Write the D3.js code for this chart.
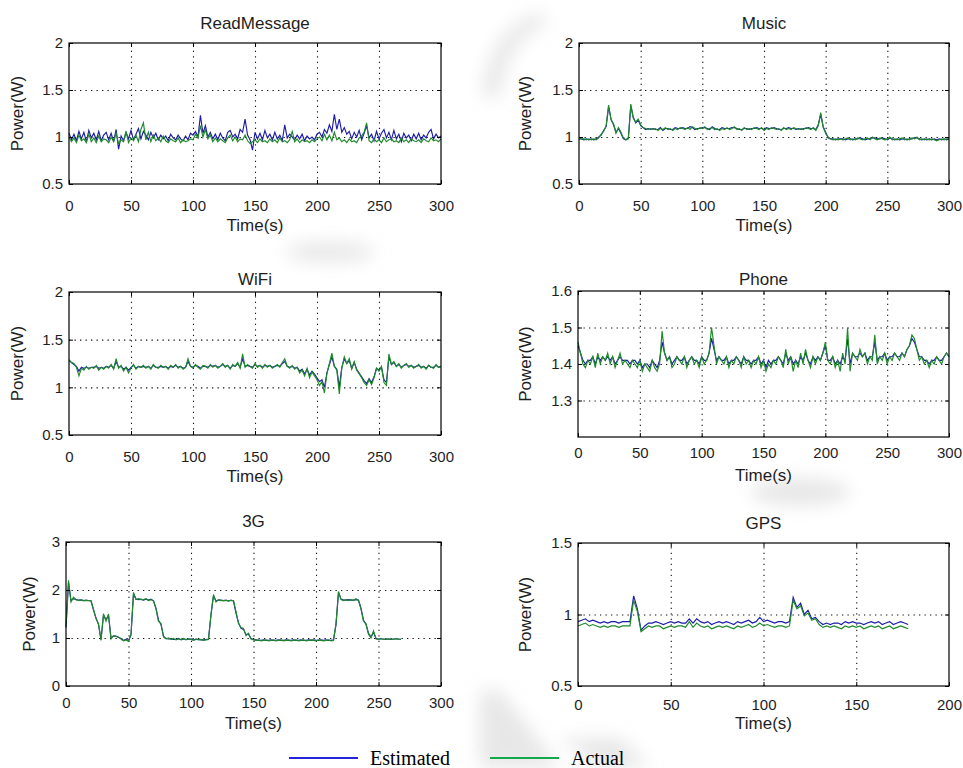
<!DOCTYPE html>
<html>
<head>
<meta charset="utf-8">
<script src="https://cdn.jsdelivr.net/npm/d3@7"></script>
<style>
	body { margin: 0; background: #fff; }
	svg { display: block; }
	text { font-family: "Liberation Sans", Arial, sans-serif; fill: #1e1e1e; }
	.grid line { stroke: #111; stroke-width: 1.1; stroke-dasharray: 1.3 4.2; }
	.legend text { font-family: "Liberation Serif", "Times New Roman", serif; fill: #000; }
</style>
</head>
<body>
<div id="chart"></div>
<script>
// one sample every 2 s
const sampleStep = 2;

const panelTitles = ["ReadMessage", "Music", "WiFi", "Phone", "3G", "GPS"];
const seriesNames = ["Estimated", "Actual"];
const xTicks300 = [0, 50, 100, 150, 200, 250, 300];
const xTicks200 = [0, 50, 100, 150, 200];
const yTicksHalf = [0.5, 1, 1.5, 2];
const yTicksPhone = [1.3, 1.4, 1.5, 1.6];
const yTicks3G = [0, 1, 2, 3];
const yTicksGPS = [0.5, 1, 1.5];

const readMsgEst = [
	1.04, 0.97, 1.03, 0.96, 1.06, 0.98, 1.05, 0.95, 1.07, 0.99,
	1.04, 0.97, 1.06, 0.96, 1.02, 1.05, 0.97, 1.04, 0.95, 1.08,
	0.87, 1.01, 0.96, 1.05, 0.98, 1.07, 0.97, 1.03, 1.09, 0.98,
	1.06, 1.02, 0.97, 1.05, 0.99, 1.04, 0.97, 1.02, 0.98, 1.01,
	0.96, 1.03, 0.99, 0.97, 1.02, 0.98, 0.96, 1.01, 0.97, 1.04,
	1.02, 1.06, 1.00, 1.23, 1.04, 1.12, 1.00, 1.05, 0.98, 1.03,
	0.97, 1.04, 0.99, 0.96, 1.05, 1.07, 1.00, 1.03, 0.98, 1.08,
	1.05, 1.19, 1.02, 0.97, 0.86, 1.05, 0.98, 1.04, 0.97, 1.07,
	0.99, 1.03, 0.97, 1.05, 0.98, 1.02, 0.96, 1.13, 0.99, 1.03,
	1.00, 0.97, 1.02, 0.98, 1.03, 0.96, 1.01, 0.98, 1.00, 0.97,
	1.03, 1.05, 1.00, 1.08, 1.04, 1.13, 1.06, 1.24, 1.08, 1.19,
	1.05, 1.10, 1.03, 1.06, 0.98, 1.05, 1.00, 1.07, 0.97, 1.04,
	1.12, 0.99, 1.03, 0.96, 1.06, 0.98, 1.04, 1.08, 0.99, 1.05,
	0.97, 1.07, 0.98, 1.03, 0.95, 1.04, 0.99, 1.02, 0.96, 1.03,
	0.98, 1.04, 0.97, 1.02, 0.99, 1.05, 1.08, 0.98, 1.03, 0.99,
	1.01
];
const readMsgAct = [
	1.00, 0.95, 0.99, 0.94, 1.02, 0.96, 0.98, 0.94, 1.03, 0.95,
	0.99, 0.94, 1.01, 0.95, 0.98, 0.97, 0.94, 1.00, 0.95, 1.04,
	0.93, 0.97, 0.95, 1.06, 0.94, 0.99, 0.96, 1.02, 0.95, 1.08,
	1.15, 0.97, 1.05, 0.95, 1.02, 0.96, 0.99, 0.95, 1.01, 0.96,
	0.94, 0.98, 0.96, 0.95, 0.99, 0.94, 0.97, 0.95, 0.96, 0.98,
	0.97, 1.03, 0.99, 1.12, 1.00, 1.08, 0.98, 1.02, 0.95, 0.99,
	0.95, 0.98, 0.96, 0.94, 0.99, 1.02, 0.96, 1.00, 0.95, 0.98,
	0.97, 1.02, 0.96, 0.93, 0.95, 0.97, 0.94, 0.98, 0.95, 0.96,
	0.94, 0.98, 0.95, 0.97, 0.94, 0.99, 0.95, 0.96, 0.94, 0.97,
	1.06, 0.95, 0.98, 0.94, 0.97, 0.95, 0.96, 0.94, 0.97, 0.95,
	0.98, 1.00, 0.96, 1.03, 0.97, 1.02, 0.96, 1.05, 0.97, 0.99,
	0.95, 0.97, 0.94, 0.98, 0.95, 0.96, 0.94, 0.99, 1.01, 1.05,
	1.15, 0.96, 0.94, 0.98, 0.95, 0.97, 0.94, 0.99, 0.95, 0.97,
	0.98, 0.95, 0.96, 0.94, 0.99, 0.95, 0.97, 0.94, 0.98, 0.96,
	0.95, 0.97, 0.94, 0.98, 0.96, 0.95, 0.99, 0.96, 0.97, 0.95,
	0.98
];

const musicEst = [
	0.98, 0.98, 0.97, 0.98, 0.97, 0.98, 0.97, 0.98, 1.00, 1.02,
	1.07, 1.11, 1.32, 1.19, 1.13, 1.05, 1.09, 1.04, 0.98, 0.97,
	0.99, 1.33, 1.21, 1.15, 1.18, 1.12, 1.10, 1.08, 1.09, 1.08,
	1.09, 1.08, 1.08, 1.10, 1.07, 1.09, 1.09, 1.08, 1.08, 1.10,
	1.09, 1.09, 1.10, 1.09, 1.09, 1.11, 1.10, 1.08, 1.09, 1.09,
	1.10, 1.10, 1.09, 1.08, 1.11, 1.09, 1.08, 1.08, 1.10, 1.09,
	1.09, 1.09, 1.10, 1.10, 1.09, 1.08, 1.08, 1.09, 1.09, 1.08,
	1.09, 1.09, 1.10, 1.09, 1.09, 1.08, 1.10, 1.09, 1.09, 1.10,
	1.09, 1.08, 1.08, 1.09, 1.09, 1.10, 1.09, 1.09, 1.08, 1.09,
	1.08, 1.09, 1.09, 1.10, 1.09, 1.09, 1.08, 1.13, 1.24, 1.11,
	1.05, 0.99, 0.98, 0.98, 0.97, 0.98, 0.98, 0.98, 0.97, 0.98,
	0.98, 0.97, 0.98, 0.98, 0.99, 0.98, 0.97, 0.98, 0.98, 0.99,
	0.99, 0.98, 0.98, 0.99, 0.98, 0.97, 0.99, 0.98, 0.97, 0.98,
	0.97, 0.98, 0.98, 0.97, 0.98, 0.98, 0.99, 0.99, 0.98, 0.97,
	0.98, 0.97, 0.98, 0.97, 0.98, 0.97, 0.98, 0.97, 0.98, 0.97,
	0.98
];
const musicAct = [
	0.99, 0.98, 0.98, 0.97, 0.98, 0.97, 0.98, 0.97, 0.99, 1.03,
	1.06, 1.12, 1.34, 1.18, 1.14, 1.04, 1.10, 1.05, 0.99, 0.97,
	0.98, 1.35, 1.20, 1.16, 1.19, 1.13, 1.10, 1.09, 1.08, 1.09,
	1.08, 1.09, 1.07, 1.09, 1.08, 1.10, 1.08, 1.09, 1.07, 1.09,
	1.08, 1.10, 1.09, 1.08, 1.10, 1.08, 1.11, 1.09, 1.08, 1.10,
	1.09, 1.11, 1.08, 1.09, 1.10, 1.08, 1.09, 1.07, 1.09, 1.08,
	1.10, 1.08, 1.09, 1.11, 1.08, 1.09, 1.07, 1.10, 1.08, 1.09,
	1.08, 1.10, 1.09, 1.08, 1.10, 1.07, 1.09, 1.08, 1.10, 1.09,
	1.08, 1.09, 1.07, 1.10, 1.08, 1.09, 1.08, 1.10, 1.09, 1.08,
	1.09, 1.08, 1.10, 1.09, 1.08, 1.10, 1.07, 1.12, 1.26, 1.10,
	1.04, 1.00, 0.98, 0.97, 0.98, 0.97, 0.98, 0.97, 0.98, 0.99,
	0.97, 0.98, 0.97, 0.99, 0.98, 0.97, 0.98, 0.99, 0.97, 1.00,
	0.98, 0.97, 0.99, 0.98, 0.97, 0.98, 1.00, 0.97, 0.98, 0.97,
	0.98, 0.99, 0.97, 0.98, 0.97, 0.99, 0.98, 1.00, 0.97, 0.98,
	0.97, 0.98, 0.97, 0.98, 0.97, 0.96, 0.97, 0.98, 0.97, 0.98,
	0.98
];

const wifiEst = [
	1.28, 1.26, 1.24, 1.22, 1.17, 1.21, 1.20, 1.21, 1.20, 1.21,
	1.21, 1.22, 1.20, 1.21, 1.20, 1.22, 1.21, 1.23, 1.20, 1.27,
	1.21, 1.22, 1.19, 1.21, 1.18, 1.21, 1.23, 1.20, 1.22, 1.21,
	1.22, 1.21, 1.22, 1.20, 1.23, 1.21, 1.21, 1.22, 1.21, 1.22,
	1.20, 1.22, 1.21, 1.23, 1.21, 1.22, 1.20, 1.21, 1.27, 1.22,
	1.21, 1.23, 1.22, 1.20, 1.22, 1.22, 1.21, 1.23, 1.22, 1.23,
	1.21, 1.22, 1.24, 1.22, 1.23, 1.20, 1.23, 1.22, 1.25, 1.21,
	1.30, 1.22, 1.23, 1.22, 1.21, 1.24, 1.22, 1.23, 1.21, 1.23,
	1.22, 1.23, 1.21, 1.22, 1.23, 1.22, 1.25, 1.27, 1.22, 1.21,
	1.22, 1.20, 1.21, 1.17, 1.19, 1.14, 1.19, 1.13, 1.17, 1.14,
	1.10, 1.06, 1.08, 1.00, 1.15, 1.24, 1.32, 1.22, 1.19, 1.00,
	1.21, 1.30, 1.25, 1.28, 1.20, 1.26, 1.19, 1.15, 1.11, 1.07,
	1.04, 1.09, 1.05, 1.11, 1.20, 1.18, 1.21, 1.08, 1.05, 1.32,
	1.24, 1.26, 1.22, 1.24, 1.21, 1.23, 1.24, 1.22, 1.23, 1.21,
	1.22, 1.23, 1.21, 1.22, 1.20, 1.23, 1.21, 1.21, 1.23, 1.21,
	1.22
];
const wifiAct = [
	1.29, 1.26, 1.25, 1.21, 1.12, 1.20, 1.18, 1.22, 1.19, 1.21,
	1.20, 1.23, 1.18, 1.21, 1.19, 1.22, 1.20, 1.24, 1.19, 1.30,
	1.20, 1.23, 1.17, 1.21, 1.15, 1.20, 1.24, 1.19, 1.22, 1.21,
	1.23, 1.20, 1.22, 1.19, 1.24, 1.21, 1.20, 1.23, 1.21, 1.22,
	1.19, 1.23, 1.21, 1.24, 1.20, 1.22, 1.19, 1.21, 1.30, 1.22,
	1.20, 1.24, 1.21, 1.19, 1.23, 1.22, 1.20, 1.24, 1.21, 1.23,
	1.20, 1.22, 1.25, 1.21, 1.23, 1.19, 1.24, 1.22, 1.26, 1.20,
	1.35, 1.21, 1.24, 1.22, 1.20, 1.25, 1.21, 1.23, 1.20, 1.24,
	1.21, 1.23, 1.20, 1.22, 1.24, 1.21, 1.26, 1.30, 1.22, 1.20,
	1.23, 1.19, 1.21, 1.15, 1.18, 1.12, 1.20, 1.10, 1.16, 1.12,
	1.08, 1.02, 1.06, 0.94, 1.15, 1.25, 1.36, 1.22, 1.18, 0.93,
	1.20, 1.32, 1.25, 1.30, 1.19, 1.27, 1.18, 1.14, 1.10, 1.05,
	1.02, 1.08, 1.03, 1.10, 1.20, 1.17, 1.22, 1.05, 1.02, 1.35,
	1.24, 1.27, 1.22, 1.25, 1.20, 1.23, 1.25, 1.21, 1.23, 1.20,
	1.22, 1.24, 1.20, 1.22, 1.19, 1.23, 1.21, 1.20, 1.24, 1.21,
	1.22
];

const phoneEst = [
	1.45, 1.43, 1.41, 1.40, 1.41, 1.41, 1.42, 1.40, 1.42, 1.41,
	1.42, 1.41, 1.42, 1.41, 1.42, 1.40, 1.41, 1.42, 1.41, 1.41,
	1.41, 1.40, 1.41, 1.41, 1.40, 1.41, 1.39, 1.40, 1.40, 1.39,
	1.41, 1.40, 1.39, 1.41, 1.46, 1.43, 1.41, 1.42, 1.40, 1.41,
	1.42, 1.41, 1.41, 1.42, 1.40, 1.41, 1.42, 1.41, 1.41, 1.40,
	1.42, 1.41, 1.41, 1.43, 1.47, 1.44, 1.41, 1.42, 1.41, 1.41,
	1.42, 1.40, 1.41, 1.41, 1.42, 1.41, 1.40, 1.42, 1.41, 1.41,
	1.40, 1.41, 1.41, 1.42, 1.40, 1.41, 1.39, 1.41, 1.40, 1.41,
	1.41, 1.42, 1.41, 1.40, 1.43, 1.41, 1.42, 1.40, 1.41, 1.40,
	1.42, 1.41, 1.43, 1.41, 1.40, 1.42, 1.41, 1.42, 1.41, 1.43,
	1.45, 1.41, 1.41, 1.42, 1.40, 1.41, 1.40, 1.42, 1.41, 1.47,
	1.40, 1.43, 1.42, 1.42, 1.43, 1.42, 1.43, 1.41, 1.42, 1.42,
	1.46, 1.41, 1.42, 1.42, 1.43, 1.41, 1.42, 1.42, 1.43, 1.42,
	1.42, 1.43, 1.42, 1.44, 1.45, 1.47, 1.46, 1.44, 1.42, 1.42,
	1.41, 1.41, 1.40, 1.41, 1.41, 1.42, 1.41, 1.41, 1.42, 1.43,
	1.42
];
const phoneAct = [
	1.46, 1.43, 1.40, 1.39, 1.41, 1.40, 1.42, 1.39, 1.43, 1.40,
	1.42, 1.41, 1.43, 1.40, 1.42, 1.39, 1.41, 1.43, 1.40, 1.41,
	1.40, 1.39, 1.41, 1.40, 1.39, 1.41, 1.38, 1.40, 1.39, 1.38,
	1.41, 1.39, 1.38, 1.40, 1.49, 1.43, 1.41, 1.42, 1.39, 1.40,
	1.42, 1.41, 1.40, 1.42, 1.39, 1.41, 1.42, 1.40, 1.41, 1.39,
	1.42, 1.40, 1.41, 1.43, 1.50, 1.45, 1.40, 1.42, 1.41, 1.40,
	1.42, 1.39, 1.41, 1.40, 1.42, 1.41, 1.39, 1.42, 1.40, 1.41,
	1.39, 1.41, 1.40, 1.42, 1.39, 1.41, 1.38, 1.40, 1.39, 1.41,
	1.40, 1.42, 1.41, 1.39, 1.44, 1.40, 1.42, 1.38, 1.41, 1.39,
	1.43, 1.40, 1.44, 1.41, 1.39, 1.42, 1.40, 1.42, 1.41, 1.43,
	1.46, 1.41, 1.40, 1.42, 1.39, 1.41, 1.38, 1.43, 1.40, 1.50,
	1.38, 1.43, 1.42, 1.41, 1.44, 1.42, 1.43, 1.40, 1.42, 1.41,
	1.48, 1.40, 1.42, 1.41, 1.43, 1.40, 1.42, 1.41, 1.43, 1.42,
	1.41, 1.43, 1.42, 1.44, 1.45, 1.48, 1.47, 1.44, 1.41, 1.42,
	1.40, 1.41, 1.39, 1.41, 1.40, 1.42, 1.41, 1.40, 1.42, 1.43,
	1.42
];

const g3Est = [
	1.22, 2.15, 1.78, 1.82, 1.80, 1.79, 1.79, 1.78, 1.79, 1.78,
	1.77, 1.58, 1.42, 1.28, 0.97, 1.48, 1.38, 1.47, 1.00, 1.04,
	1.04, 1.01, 0.99, 0.95, 0.97, 0.95, 1.06, 1.92, 1.81, 1.80,
	1.81, 1.79, 1.81, 1.79, 1.81, 1.77, 1.62, 1.37, 1.28, 1.04,
	0.99, 0.98, 0.98, 0.97, 0.97, 0.99, 0.96, 0.98, 0.97, 0.97,
	0.98, 0.96, 0.97, 0.97, 0.96, 0.96, 0.97, 0.98, 1.48, 1.88,
	1.77, 1.79, 1.79, 1.78, 1.79, 1.77, 1.79, 1.77, 1.52, 1.32,
	1.20, 1.18, 1.07, 1.08, 0.99, 0.97, 0.96, 0.95, 0.95, 0.96,
	0.95, 0.95, 0.96, 0.95, 0.95, 0.96, 0.95, 0.95, 0.96, 0.95,
	0.95, 0.96, 0.95, 0.95, 0.96, 0.95, 0.95, 0.96, 0.95, 0.96,
	0.95, 0.95, 0.96, 0.95, 0.96, 0.95, 0.95, 0.96, 1.28, 1.95,
	1.81, 1.79, 1.79, 1.80, 1.79, 1.79, 1.80, 1.79, 1.62, 1.37,
	1.28, 1.10, 1.02, 1.12, 0.99, 0.98, 0.98, 0.98, 0.97, 0.98,
	0.97, 0.98, 0.98, 0.98, 0.97
];
const g3Act = [
	1.25, 2.20, 1.75, 1.85, 1.80, 1.78, 1.80, 1.78, 1.78, 1.78,
	1.78, 1.60, 1.40, 1.30, 0.95, 1.50, 1.35, 1.50, 0.98, 1.05,
	1.03, 1.02, 0.98, 0.94, 0.96, 0.93, 1.08, 1.95, 1.80, 1.82,
	1.80, 1.80, 1.82, 1.78, 1.80, 1.78, 1.60, 1.35, 1.30, 1.02,
	0.98, 1.00, 0.97, 0.99, 0.96, 0.98, 0.97, 0.99, 0.96, 0.98,
	0.97, 0.95, 0.98, 0.96, 0.97, 0.95, 0.96, 0.97, 1.50, 1.90,
	1.75, 1.80, 1.78, 1.78, 1.78, 1.78, 1.78, 1.78, 1.55, 1.30,
	1.22, 1.20, 1.05, 1.10, 0.98, 0.96, 0.95, 0.96, 0.94, 0.95,
	0.96, 0.94, 0.95, 0.96, 0.94, 0.95, 0.96, 0.94, 0.95, 0.96,
	0.94, 0.95, 0.96, 0.94, 0.95, 0.96, 0.94, 0.95, 0.96, 0.95,
	0.94, 0.96, 0.95, 0.94, 0.95, 0.96, 0.94, 0.95, 1.30, 1.97,
	1.80, 1.78, 1.80, 1.78, 1.80, 1.78, 1.82, 1.78, 1.60, 1.35,
	1.30, 1.08, 1.00, 1.15, 0.98, 0.97, 0.99, 0.97, 0.98, 0.97,
	0.98, 0.97, 0.99, 0.97, 0.98
];

const gpsEst = [
	0.95, 0.96, 0.97, 0.95, 0.96, 0.95, 0.94, 0.95, 0.94, 0.95,
	0.95, 0.94, 0.95, 0.95, 0.95, 1.13, 1.04, 0.89, 0.92, 0.94,
	0.94, 0.95, 0.94, 0.93, 0.94, 0.95, 0.94, 0.95, 0.94, 0.94,
	0.97, 0.94, 0.97, 0.95, 0.94, 0.95, 0.93, 0.94, 0.95, 0.94,
	0.95, 0.94, 0.93, 0.95, 0.94, 0.95, 0.96, 0.94, 0.95, 0.98,
	0.95, 0.96, 0.95, 0.94, 0.95, 0.95, 0.94, 0.95, 1.12, 1.05,
	1.08, 1.00, 1.03, 0.97, 0.98, 0.95, 0.93, 0.94, 0.93, 0.94,
	0.94, 0.93, 0.95, 0.94, 0.95, 0.94, 0.94, 0.93, 0.94, 0.95,
	0.94, 0.95, 0.93, 0.94, 0.95, 0.93, 0.94, 0.95, 0.94, 0.93
];
const gpsAct = [
	0.92, 0.93, 0.94, 0.92, 0.93, 0.92, 0.91, 0.92, 0.91, 0.92,
	0.92, 0.91, 0.92, 0.92, 0.92, 1.10, 1.02, 0.88, 0.90, 0.92,
	0.91, 0.92, 0.92, 0.90, 0.91, 0.92, 0.91, 0.92, 0.92, 0.91,
	0.95, 0.91, 0.94, 0.92, 0.91, 0.92, 0.90, 0.91, 0.92, 0.91,
	0.92, 0.91, 0.90, 0.92, 0.91, 0.92, 0.93, 0.91, 0.92, 0.94,
	0.92, 0.93, 0.92, 0.91, 0.92, 0.92, 0.91, 0.92, 1.10, 1.04,
	1.06, 0.99, 1.01, 0.96, 0.97, 0.93, 0.91, 0.92, 0.91, 0.92,
	0.91, 0.90, 0.92, 0.91, 0.92, 0.91, 0.92, 0.90, 0.91, 0.92,
	0.91, 0.92, 0.90, 0.91, 0.92, 0.90, 0.91, 0.92, 0.91, 0.90
];

const estColor = "#1c1ca8";
const actColor = "#1f8a2a";

// where each subplot sits on the page
const panels = [
	{est: readMsgEst, act: readMsgAct, xTicks: xTicks300, yTicks: yTicksHalf, yDomain: [0.5, 2],
		left: 69, right: 441, top: 43, bottom: 184, titleY: 29, tickY: 27, xLabelY: 231, yLabelX: 17},
	{est: musicEst, act: musicAct, xTicks: xTicks300, yTicks: yTicksHalf, yDomain: [0.5, 2],
		left: 579, right: 949, top: 43, bottom: 184, titleY: 29, tickY: 27, xLabelY: 231, yLabelX: 525},
	{est: wifiEst, act: wifiAct, xTicks: xTicks300, yTicks: yTicksHalf, yDomain: [0.5, 2],
		left: 69, right: 441, top: 292, bottom: 435, titleY: 285, tickY: 27, xLabelY: 482, yLabelX: 17},
	{est: phoneEst, act: phoneAct, xTicks: xTicks300, yTicks: yTicksPhone, yDomain: [1.2, 1.6],
		left: 578, right: 949, top: 291, bottom: 437, titleY: 285, tickY: 21, xLabelY: 481, yLabelX: 525},
	{est: g3Est, act: g3Act, xTicks: xTicks300, yTicks: yTicks3G, yDomain: [0, 3],
		left: 66, right: 441, top: 542, bottom: 686, titleY: 527, tickY: 22, xLabelY: 729, yLabelX: 29},
	{est: gpsEst, act: gpsAct, xTicks: xTicks200, yTicks: yTicksGPS, yDomain: [0.5, 1.5],
		left: 578, right: 949, top: 543, bottom: 686, titleY: 529, tickY: 24, xLabelY: 729, yLabelX: 525}
];

const svg = d3.select("#chart")
	.append("svg")
	.attr("width", 963)
	.attr("height", 768);

// faint grey watermark behind the figure
svg.append("filter")
	.attr("id", "soft")
	.append("feGaussianBlur")
	.attr("stdDeviation", 9);
const marks = svg.append("g").attr("filter", "url(#soft)").attr("fill", "#d4d4d4").attr("opacity", 0.55);
marks.append("path").attr("d", "M482,95 Q488,30 540,12 L548,24 Q505,40 500,98 Z");
marks.append("ellipse").attr("cx", 330).attr("cy", 252).attr("rx", 45).attr("ry", 10);
marks.append("ellipse").attr("cx", 800).attr("cy", 492).attr("rx", 50).attr("ry", 14);
marks.append("path").attr("d", "M480,690 L500,690 L560,768 L480,768 Z");
marks.append("path").attr("d", "M560,738 L620,738 L650,768 L600,768 Z");

function drawPanel(p, title) {
	const w = p.right - p.left,
		h = p.bottom - p.top;
	const xMax = p.xTicks[p.xTicks.length - 1];

	let x = d3.scaleLinear().domain([0, xMax]).range([p.left, p.right]);
	let y = d3.scaleLinear().domain(p.yDomain).range([p.bottom, p.top]);

	const g = svg.append("g");

	g.append("rect")
		.attr("x", p.left)
		.attr("y", p.top)
		.attr("width", w)
		.attr("height", h)
		.attr("fill", "#fff");

	// dotted grid
	g.append("g")
		.attr("class", "grid")
		.attr("transform", "translate(0," + p.bottom + ")")
		.call(d3.axisBottom(x).tickValues(p.xTicks.slice(1, -1)).tickSize(-h).tickFormat(""))
		.call(s => s.select(".domain").remove());
	g.append("g")
		.attr("class", "grid")
		.attr("transform", "translate(" + p.left + ",0)")
		.call(d3.axisLeft(y).tickValues(p.yTicks.filter(v => v > p.yDomain[0] && v < p.yDomain[1])).tickSize(-w).tickFormat(""))
		.call(s => s.select(".domain").remove());

	// the two series
	let valueLine = d3.line()
		.x((d, i) => x(i * sampleStep))
		.y(d => y(d));

	g.append("path")
		.datum(p.est)
		.attr("fill", "none")
		.attr("stroke", estColor)
		.attr("stroke-width", 1.15)
		.attr("d", valueLine);
	g.append("path")
		.datum(p.act)
		.attr("fill", "none")
		.attr("stroke", actColor)
		.attr("stroke-width", 1.15)
		.attr("d", valueLine);

	// axes with inward ticks
	const tickFont = 15;
	g.append("g")
		.attr("transform", "translate(0," + p.bottom + ")")
		.call(d3.axisBottom(x).tickValues(p.xTicks).tickSizeInner(-4).tickSizeOuter(0)
			.tickPadding(p.tickY - tickFont * 0.71))
		.call(s => s.select(".domain").remove())
		.call(s => s.selectAll("text").attr("font-size", tickFont));
	g.append("g")
		.attr("transform", "translate(" + p.left + ",0)")
		.call(d3.axisLeft(y).tickValues(p.yTicks).tickSizeInner(-4).tickSizeOuter(0).tickPadding(6)
			.tickFormat(d3.format("")))
		.call(s => s.select(".domain").remove())
		.call(s => s.selectAll("text").attr("font-size", tickFont));
	g.append("g")
		.attr("transform", "translate(0," + p.top + ")")
		.call(d3.axisTop(x).tickValues(p.xTicks).tickSizeInner(-4).tickSizeOuter(0).tickFormat(""))
		.call(s => s.select(".domain").remove());
	g.append("g")
		.attr("transform", "translate(" + p.right + ",0)")
		.call(d3.axisRight(y).tickValues(p.yTicks).tickSizeInner(-4).tickSizeOuter(0).tickFormat(""))
		.call(s => s.select(".domain").remove());

	g.append("rect")
		.attr("x", p.left)
		.attr("y", p.top)
		.attr("width", w)
		.attr("height", h)
		.attr("fill", "none")
		.attr("stroke", "#000")
		.attr("stroke-width", 1.2);

	g.append("text")
		.attr("x", (p.left + p.right) / 2)
		.attr("y", p.titleY)
		.attr("text-anchor", "middle")
		.attr("font-size", 17)
		.text(title);

	g.append("text")
		.attr("x", (p.left + p.right) / 2)
		.attr("y", p.xLabelY)
		.attr("text-anchor", "middle")
		.attr("font-size", 17)
		.text("Time(s)");

	g.append("text")
		.attr("transform", "translate(" + p.yLabelX + "," + (p.top + p.bottom) / 2 + ") rotate(-90)")
		.attr("text-anchor", "middle")
		.attr("dy", "0.35em")
		.attr("font-size", 17)
		.text("Power(W)");
}

panels.forEach((p, i) => drawPanel(p, panelTitles[i]));

// legend under the grid
const legend = svg.append("g").attr("class", "legend");
const legendItems = [
	{name: seriesNames[0], color: "#2424dc", x: 289},
	{name: seriesNames[1], color: "#14a84a", x: 490}
];
legendItems.forEach(d => {
	legend.append("line")
		.attr("x1", d.x).attr("x2", d.x + 69)
		.attr("y1", 758).attr("y2", 758)
		.attr("stroke", d.color)
		.attr("stroke-width", 2.2);
	legend.append("text")
		.attr("x", d.x + 81)
		.attr("y", 765)
		.attr("font-size", 20)
		.text(d.name);
});
</script>
</body>
</html>
